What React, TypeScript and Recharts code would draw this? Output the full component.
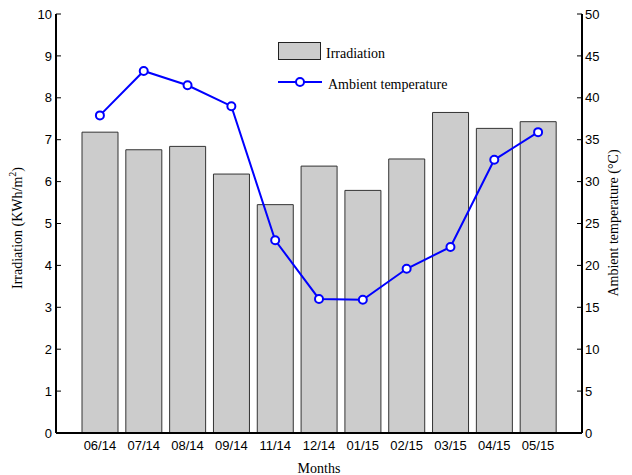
import { ComposedChart, Bar, Line, XAxis, YAxis } from 'recharts'

const months = ['06/14', '07/14', '08/14', '09/14', '11/14', '12/14', '01/15', '02/15', '03/15', '04/15', '05/15']
const irradiation = [7.18, 6.76, 6.84, 6.18, 5.45, 6.37, 5.79, 6.54, 7.65, 7.27, 7.43]
const temperature = [37.9, 43.2, 41.5, 39.0, 23.0, 16.0, 15.9, 19.6, 22.2, 32.6, 35.9]
const leftTicks = [0, 1, 2, 3, 4, 5, 6, 7, 8, 9, 10]
const rightTicks = [0, 5, 10, 15, 20, 25, 30, 35, 40, 45, 50]

const data = months.map((m, i) => ({ month: m, irradiation: irradiation[i], temperature: temperature[i] }))

const sans = 'Arial, "Liberation Sans", sans-serif'
const serif = '"Times New Roman", "Liberation Serif", serif'

// axis positions in the 632x475 frame
const PLOT_LEFT = 56
const PLOT_RIGHT = 582

const LeftTick = (p: any) => (
  <g>
    <line x1={PLOT_LEFT} x2={PLOT_LEFT + 5} y1={p.y} y2={p.y} stroke="#000" strokeWidth={1} />
    <text x={PLOT_LEFT - 4} y={p.y} dy="0.36em" textAnchor="end" fontSize={13} fontFamily={sans} fill="#000">
      {p.payload.value}
    </text>
  </g>
)

const RightTick = (p: any) => (
  <g>
    <line x1={PLOT_RIGHT - 5} x2={PLOT_RIGHT} y1={p.y} y2={p.y} stroke="#000" strokeWidth={1} />
    <text x={PLOT_RIGHT + 3} y={p.y} dy="0.36em" textAnchor="start" fontSize={13} fontFamily={sans} fill="#000">
      {p.payload.value}
    </text>
  </g>
)

const TopTick = (p: any) => (
  <line x1={p.x} x2={p.x} y1={p.y} y2={p.y + 5} stroke="#000" strokeWidth={1} />
)

// legend drawn as an overlay so it doesn't eat into the plot area
const LegendBox = () => (
  <svg width={190} height={60} style={{ position: 'absolute', left: 278, top: 38 }}>
    <rect x={0.5} y={4.5} width={42} height={17} fill="#cccccc" stroke="#222" strokeWidth={1} />
    <text x={48} y={20} fontSize={14} fontFamily={serif} fill="#000">Irradiation</text>
    <line x1={0} x2={44} y1={44} y2={44} stroke="#0000ff" strokeWidth={2} />
    <circle cx={22} cy={44} r={4} fill="#fff" stroke="#0000ff" strokeWidth={2} />
    <text x={50} y={51} fontSize={14} fontFamily={serif} fill="#000">Ambient temperature</text>
  </svg>
)

export default function App() {
  return (
    <div style={{ position: 'absolute', left: 0, top: 0, width: 632, height: 475, background: '#fff' }}>
      <ComposedChart width={632} height={475} data={data} margin={{ top: 14, right: 0, bottom: 0, left: 0 }}>
        <XAxis
          xAxisId="bottom"
          dataKey="month"
          height={42}
          padding={{ left: 22, right: 22 }}
          axisLine={{ stroke: '#000', strokeWidth: 2 }}
          tickLine={false}
          tickSize={0}
          tickMargin={8}
          tick={{ fontSize: 13, fontFamily: sans, fill: '#000' }}
          interval={0}
          label={{ value: 'Months', position: 'insideBottom', offset: 0, fontSize: 14, fontFamily: serif, fill: '#000', dy: -2 }}
        />
        <XAxis
          xAxisId="top"
          orientation="top"
          dataKey="month"
          height={0}
          padding={{ left: 22, right: 22 }}
          axisLine={{ stroke: '#000', strokeWidth: 2 }}
          tickLine={false}
          tickSize={0}
          tickMargin={0}
          tick={TopTick}
          interval={0}
        />
        <YAxis
          yAxisId="left"
          width={56}
          domain={[0, 10]}
          ticks={leftTicks}
          interval={0}
          axisLine={{ stroke: '#000', strokeWidth: 2 }}
          tickLine={false}
          tickSize={0}
          tick={LeftTick}
          label={{
            content: () => (
              <text x={22} y={228} transform="rotate(-90 22 228)" textAnchor="middle" fontSize={14} fontFamily={serif} fill="#000">
                Irradiation (KWh/m<tspan dy={-6} fontSize={10}>2</tspan><tspan dy={6}>)</tspan>
              </text>
            ),
          }}
        />
        <YAxis
          yAxisId="right"
          orientation="right"
          width={50}
          domain={[0, 50]}
          ticks={rightTicks}
          interval={0}
          axisLine={{ stroke: '#000', strokeWidth: 2 }}
          tickLine={false}
          tickSize={0}
          tick={RightTick}
          label={{
            content: () => (
              <text x={618} y={223} transform="rotate(-90 618 223)" textAnchor="middle" fontSize={14} fontFamily={serif} fill="#000">
                Ambient temperature (°C)
              </text>
            ),
          }}
        />
        <Bar
          xAxisId="bottom"
          yAxisId="left"
          dataKey="irradiation"
          name="Irradiation"
          barSize={36}
          fill="#cccccc"
          stroke="#333"
          strokeWidth={1}
          isAnimationActive={false}
        />
        <Line
          xAxisId="bottom"
          yAxisId="right"
          dataKey="temperature"
          name="Ambient temperature"
          type="linear"
          stroke="#0000ff"
          strokeWidth={2}
          dot={{ r: 4, fill: '#fff', stroke: '#0000ff', strokeWidth: 2 }}
          isAnimationActive={false}
        />
      </ComposedChart>
      <LegendBox />
    </div>
  )
}
